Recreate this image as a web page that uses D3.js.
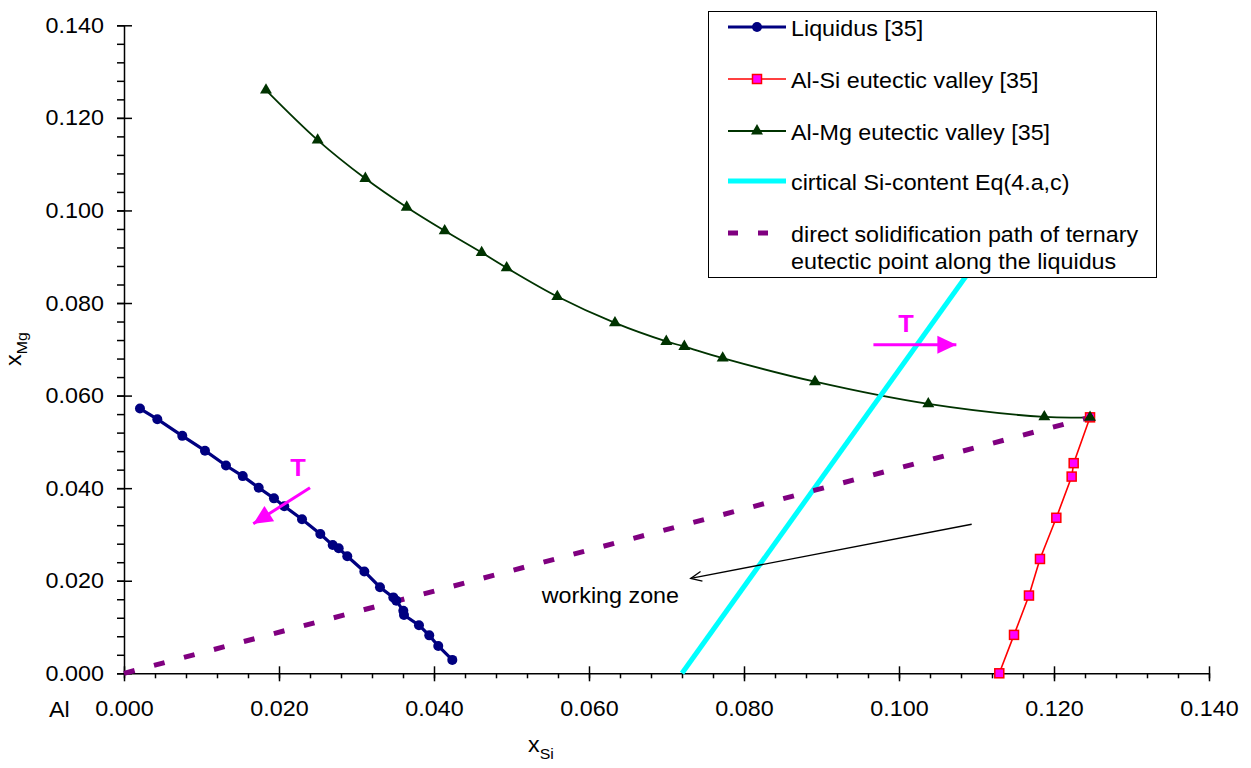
<!DOCTYPE html>
<html>
<head>
<meta charset="utf-8">
<script src="https://cdn.jsdelivr.net/npm/d3@7"></script>
<style>
  body { margin: 0; background: #fff; }
  text { font-family: "Liberation Sans", Arial, sans-serif; fill: #000; }
</style>
</head>
<body>
<svg id="chart" width="1251" height="768"></svg>
<script>
// ---- data (mole fractions) ----
const liquidusX = [0.00206, 0.0043, 0.00752, 0.01045, 0.01316, 0.01532, 0.01738, 0.01935, 0.02068, 0.02297,
                   0.02533, 0.02693, 0.0277, 0.02881, 0.03101, 0.03303, 0.03475, 0.03514, 0.03604, 0.03613,
                   0.03806, 0.03939, 0.04055, 0.04236];
const liquidusY = [0.0572, 0.0549, 0.0513, 0.0481, 0.0449, 0.0426, 0.0401, 0.0378, 0.0361, 0.0333,
                   0.0301, 0.0277, 0.0270, 0.0253, 0.0220, 0.0186, 0.0164, 0.0157, 0.0135, 0.0126,
                   0.0104, 0.0082, 0.0059, 0.0029];

const alSiX = [0.11294, 0.11484, 0.11677, 0.11819, 0.1203, 0.12228, 0.12254, 0.12465];
const alSiY = [0.0, 0.0083, 0.0168, 0.0247, 0.0336, 0.0425, 0.0454, 0.0553];

const alMgX = [0.01832, 0.02499, 0.03114, 0.03648, 0.04138, 0.04615, 0.04938, 0.05591, 0.06335, 0.06997,
               0.0723, 0.07725, 0.08916, 0.10378, 0.11875, 0.12465];
const alMgY = [0.1260, 0.1152, 0.1069, 0.1007, 0.0956, 0.0909, 0.0876, 0.0814, 0.0757, 0.0717,
               0.0706, 0.0681, 0.0630, 0.0582, 0.0554, 0.0553];

const criticalX = [0.072, 0.1318];
const criticalY = [0.0, 0.140];

const pathX = [0.0, 0.12465];
const pathY = [0.0, 0.0553];

const tickValues = [0, 0.02, 0.04, 0.06, 0.08, 0.1, 0.12, 0.14];
const minorValues = d3.range(0, 36).map(i => i * 0.004);

const legendLabels = ['Liquidus [35]', 'Al-Si eutectic valley [35]', 'Al-Mg eutectic valley [35]',
                      'cirtical Si-content Eq(4.a,c)',
                      ['direct solidification path of ternary', 'eutectic point along the liquidus']];

// annotations: [x0, y0, x1, y1] in data units
const tArrows = [[0.0240, 0.0401, 0.01668, 0.0323], [0.0967, 0.0710, 0.1074, 0.0710]];
const tLabels = [[0.02245, 0.0427], [0.1009, 0.0738]];
const zoneArrow = [0.10938, 0.0322, 0.07312, 0.0205];
const zoneLabel = [0.0539, 0.01525];

// ---- setup ----
const SX = 1.06; // glyphs in the figure are slightly wide
const svg = d3.select('#chart');
const x = d3.scaleLinear().domain([0, 0.14]).range([124, 1209]);
const y = d3.scaleLinear().domain([0, 0.14]).range([673.3, 25.3]);
const fmt = d3.format('.3f');
const zip = (a, b) => a.map((v, i) => [v, b[i]]);

const defs = svg.append('defs');
defs.append('marker')
    .attr('id', 'headT')
    .attr('markerUnits', 'userSpaceOnUse')
    .attr('viewBox', '-20 -10 22 20')
    .attr('markerWidth', 22).attr('markerHeight', 20)
    .attr('refX', 0).attr('refY', 0)
    .attr('orient', 'auto')
    .append('path').attr('d', 'M-19,-9L0,0L-19,9Z').attr('fill', '#FF00FF');
defs.append('marker')
    .attr('id', 'headZ')
    .attr('markerUnits', 'userSpaceOnUse')
    .attr('viewBox', '-12 -7 14 14')
    .attr('markerWidth', 14).attr('markerHeight', 14)
    .attr('refX', 0).attr('refY', 0)
    .attr('orient', 'auto')
    .append('path').attr('d', 'M-11,-5L0,0L-11,5').attr('fill', 'none').attr('stroke', '#000').attr('stroke-width', 1.3);

// ---- axes ----
const yMinor = svg.append('g').attr('transform', `translate(${x(0)},0)`)
    .call(d3.axisLeft(y).tickValues(minorValues).tickFormat('').tickSize(7).tickSizeOuter(0));
yMinor.select('.domain').remove();

const yAxis = svg.append('g').attr('transform', `translate(${x(0)},0)`)
    .call(d3.axisLeft(y).tickValues(tickValues).tickFormat(fmt).tickSize(7).tickSizeOuter(0).tickPadding(12));
yAxis.selectAll('.tick line').attr('x1', 8);

const xMinor = svg.append('g').attr('transform', `translate(0,${y(0)})`)
    .call(d3.axisBottom(x).tickValues(minorValues).tickFormat('').tickSize(5).tickSizeOuter(0));
xMinor.select('.domain').remove();

const xAxis = svg.append('g').attr('transform', `translate(0,${y(0)})`)
    .call(d3.axisBottom(x).tickValues(tickValues).tickFormat(fmt).tickSize(8).tickSizeOuter(0).tickPadding(19));
xAxis.selectAll('.tick line').attr('y1', -7);

svg.selectAll('.domain, .tick line').attr('stroke', '#000').attr('stroke-width', 1.5);
svg.selectAll('.tick text')
    .attr('font-size', 22)
    .attr('font-family', '"Liberation Sans", Arial, sans-serif')
    .attr('fill', '#000')
    .attr('transform', `scale(${SX},1)`);

function label(px, py, str, opts = {}) {
    const t = svg.append('text')
        .attr('transform', `translate(${px},${py}) scale(${SX},1)`)
        .attr('font-size', opts.size || 22)
        .attr('text-anchor', opts.anchor || 'start')
        .text(str);
    if (opts.bold) t.attr('font-weight', 'bold');
    if (opts.fill) t.style('fill', opts.fill);
    return t;
}

label(49, 717, 'Al');

// axis titles
const xt = svg.append('text').attr('transform', `translate(528,752) scale(${SX},1)`).attr('font-size', 22);
xt.append('tspan').text('x');
xt.append('tspan').attr('font-size', 15).attr('dy', 7).text('Si');

const yt = svg.append('text').attr('transform', `translate(21,366) rotate(-90) scale(${SX},1)`).attr('font-size', 22);
yt.append('tspan').text('x');
yt.append('tspan').attr('font-size', 15).attr('dy', 6).text('Mg');

// ---- series lines ----
const line = d3.line().x(d => x(d[0])).y(d => y(d[1]));
const smooth = d3.line().x(d => x(d[0])).y(d => y(d[1])).curve(d3.curveCatmullRom.alpha(0.5));

svg.append('path').datum(zip(liquidusX, liquidusY))
    .attr('d', line).attr('fill', 'none').attr('stroke', '#000080').attr('stroke-width', 3.2);
svg.append('path').datum(zip(alSiX, alSiY))
    .attr('d', line).attr('fill', 'none').attr('stroke', '#FF0000').attr('stroke-width', 1.6);
svg.append('path').datum(zip(alMgX, alMgY))
    .attr('d', smooth).attr('fill', 'none').attr('stroke', '#003300').attr('stroke-width', 1.8);
svg.append('path').datum(zip(criticalX, criticalY))
    .attr('d', line).attr('fill', 'none').attr('stroke', '#00FFFF').attr('stroke-width', 5);
svg.append('path').datum(zip(pathX, pathY))
    .attr('d', line).attr('fill', 'none').attr('stroke', '#800080').attr('stroke-width', 5)
    .attr('stroke-dasharray', '11,20');

// ---- markers ----
svg.append('g').selectAll('circle')
    .data(zip(liquidusX, liquidusY)).enter().append('circle')
    .attr('cx', d => x(d[0])).attr('cy', d => y(d[1])).attr('r', 5)
    .attr('fill', '#000080');

svg.append('g').selectAll('rect')
    .data(zip(alSiX, alSiY)).enter().append('rect')
    .attr('x', d => x(d[0]) - 4.5).attr('y', d => y(d[1]) - 4.5)
    .attr('width', 9).attr('height', 9)
    .attr('fill', '#FF00FF').attr('stroke', '#FF0000').attr('stroke-width', 1.5);

const tri = d3.symbol().type(d3.symbolTriangle).size(62);
svg.append('g').selectAll('path')
    .data(zip(alMgX, alMgY)).enter().append('path')
    .attr('d', tri).attr('transform', d => `translate(${x(d[0])},${y(d[1])})`)
    .attr('fill', '#003300');

// ---- annotations ----
tArrows.forEach(a => {
    svg.append('line')
        .attr('x1', x(a[0])).attr('y1', y(a[1])).attr('x2', x(a[2])).attr('y2', y(a[3]))
        .attr('stroke', '#FF00FF').attr('stroke-width', 3).attr('marker-end', 'url(#headT)');
});
tLabels.forEach(p => label(x(p[0]), y(p[1]), 'T', { anchor: 'middle', bold: true, fill: '#FF00FF', size: 24 }));

svg.append('line')
    .attr('x1', x(zoneArrow[0])).attr('y1', y(zoneArrow[1])).attr('x2', x(zoneArrow[2])).attr('y2', y(zoneArrow[3]))
    .attr('stroke', '#000').attr('stroke-width', 1.3).attr('marker-end', 'url(#headZ)');
label(x(zoneLabel[0]), y(zoneLabel[1]), 'working zone');

// ---- legend ----
const lg = svg.append('g');
lg.append('rect').attr('x', 708.5).attr('y', 11.5).attr('width', 448).attr('height', 266)
    .attr('fill', '#fff').attr('stroke', '#000').attr('stroke-width', 1);

const rowY = [27, 79, 131, 181, 233];
const sx0 = 728, sx1 = 786, smid = 757;
lg.append('line').attr('x1', sx0).attr('x2', sx1).attr('y1', rowY[0]).attr('y2', rowY[0])
    .attr('stroke', '#000080').attr('stroke-width', 3.2);
lg.append('circle').attr('cx', smid).attr('cy', rowY[0]).attr('r', 5).attr('fill', '#000080');

lg.append('line').attr('x1', sx0).attr('x2', sx1).attr('y1', rowY[1]).attr('y2', rowY[1])
    .attr('stroke', '#FF0000').attr('stroke-width', 1.6);
lg.append('rect').attr('x', smid - 4.5).attr('y', rowY[1] - 4.5).attr('width', 9).attr('height', 9)
    .attr('fill', '#FF00FF').attr('stroke', '#FF0000').attr('stroke-width', 1.5);

lg.append('line').attr('x1', sx0).attr('x2', sx1).attr('y1', rowY[2]).attr('y2', rowY[2])
    .attr('stroke', '#003300').attr('stroke-width', 1.8);
lg.append('path').attr('d', tri).attr('transform', `translate(${smid},${rowY[2]})`).attr('fill', '#003300');

lg.append('line').attr('x1', sx0).attr('x2', sx1).attr('y1', rowY[3]).attr('y2', rowY[3])
    .attr('stroke', '#00FFFF').attr('stroke-width', 5);

lg.append('line').attr('x1', sx0).attr('x2', sx1).attr('y1', rowY[4]).attr('y2', rowY[4])
    .attr('stroke', '#800080').attr('stroke-width', 5).attr('stroke-dasharray', '10,20');

legendLabels.forEach((l, i) => {
    if (Array.isArray(l)) {
        l.forEach((s, j) => label(791, rowY[i] + 9 + j * 27, s));
    } else {
        label(791, rowY[i] + 9, l);
    }
});
</script>
</body>
</html>
